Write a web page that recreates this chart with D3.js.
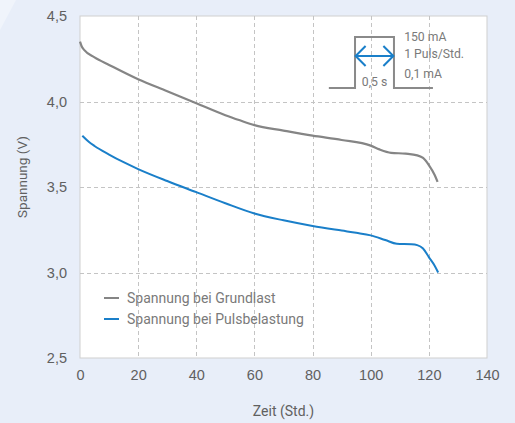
<!DOCTYPE html>
<html><head><meta charset="utf-8">
<script src="https://cdn.jsdelivr.net/npm/d3@7"></script>
<style>
body{margin:0;background:#e8eef9;}
svg{display:block;font-family:Roboto, "DejaVu Sans", sans-serif;}
</style></head>
<body>
<svg id="c" width="515" height="423"></svg>
<script>
// Data
const xTicks = [0,20,40,60,80,100,120,140];
const yTicks = [2.5,3.0,3.5,4.0,4.5];
const grundlastT = [0,0.6,1.5,5,10,20,30,40,50,55,60,70,80,90,100,103,107,112,116,118,120,122,123];
const grundlastV = [4.35,4.322,4.3,4.258,4.214,4.13,4.06,3.99,3.92,3.89,3.862,3.83,3.80,3.775,3.742,3.72,3.70,3.695,3.685,3.67,3.628,3.57,3.53];
const pulsT = [0.8,3,5,10,15,20,30,40,50,60,70,80,90,95,100,105,109,114,116,118,120,122,123.2];
const pulsV = [3.80,3.765,3.74,3.69,3.645,3.605,3.535,3.47,3.405,3.345,3.305,3.272,3.245,3.232,3.217,3.19,3.168,3.165,3.16,3.14,3.09,3.04,3.0];
const seriesNames = ["Spannung bei Grundlast","Spannung bei Pulsbelastung"];
const seriesColors = ["#858585","#1a7fc9"];
// Pulse inset (data units)
const pulseT = [85.6,94.6,94.6,108,108,121.4];
const pulseV = [4.079,4.079,4.377,4.377,4.079,4.079];
const arrowT = [94.8,107.8]; const arrowV = 4.266;
const insetLabels = [
  {t:111.5,v:4.352,text:"150 mA"},
  {t:111.5,v:4.253,text:"1 Puls/Std."},
  {t:111.5,v:4.135,text:"0,1 mA"}
];
const durLabel = {t:101.3,v:4.092,text:"0,5 s"};

const svg = d3.select("#c");
svg.append("path").attr("d","M0,0 L16,0 L0,30 Z").attr("fill","#f0f4fb");

const x = d3.scaleLinear().domain([0,140]).range([80,487]);
const y = d3.scaleLinear().domain([2.5,4.5]).range([358,16]);

svg.append("rect").attr("x",x(0)).attr("y",y(4.5)).attr("width",x(140)-x(0)).attr("height",y(2.5)-y(4.5))
  .attr("fill","#fff").attr("stroke","#cfcfcf").attr("stroke-width",1);

const grid = svg.append("g").attr("stroke","#c4c4c4").attr("stroke-dasharray","4,3").attr("stroke-width",1);
xTicks.filter(d=>d>0&&d<140).forEach(d=>grid.append("line").attr("x1",Math.round(x(d))+0.5).attr("x2",Math.round(x(d))+0.5).attr("y1",y(4.5)).attr("y2",y(2.5)));
yTicks.filter(d=>d>2.5&&d<4.5).forEach(d=>grid.append("line").attr("y1",Math.round(y(d))+0.5).attr("y2",Math.round(y(d))+0.5).attr("x1",x(0)).attr("x2",x(140)));

const fmt = d=>d3.format(".1f")(d).replace(".",",");
const xAxis = d3.axisBottom(x).tickValues(xTicks).tickSize(0).tickPadding(12).tickFormat(d=>d);
const gx = svg.append("g").attr("transform",`translate(0,${y(2.5)})`).call(xAxis);
gx.select(".domain").remove();
gx.selectAll("text").attr("fill","#606060").attr("font-size",14.5);
const yAxis = d3.axisLeft(y).tickValues(yTicks).tickSize(0).tickPadding(13).tickFormat(fmt);
const gy = svg.append("g").attr("transform",`translate(${x(0)},0)`).call(yAxis);
gy.select(".domain").remove();
gy.selectAll("text").attr("fill","#606060").attr("font-size",14.5);

svg.append("text").attr("x",(x(0)+x(140))/2).attr("y",416).attr("text-anchor","middle").attr("fill","#606060").attr("font-size",14).text("Zeit (Std.)");
svg.append("text").attr("transform",`translate(27,${177}) rotate(-90)`).attr("text-anchor","middle").attr("fill","#606060").attr("font-size",13.5).text("Spannung (V)");

const line = d3.line().x(d=>x(d[0])).y(d=>y(d[1])).curve(d3.curveMonotoneX);
svg.append("path").datum(d3.zip(grundlastT,grundlastV)).attr("d",line).attr("fill","none").attr("stroke",seriesColors[0]).attr("stroke-width",2.2);
svg.append("path").datum(d3.zip(pulsT,pulsV)).attr("d",line).attr("fill","none").attr("stroke",seriesColors[1]).attr("stroke-width",2);

seriesNames.forEach((n,i)=>{
  const yy = 298 + i*21;
  svg.append("line").attr("x1",104).attr("x2",119).attr("y1",yy).attr("y2",yy).attr("stroke",seriesColors[i]).attr("stroke-width",2);
  svg.append("text").attr("x",127).attr("y",yy+5).attr("fill","#7a7a7a").attr("font-size",14).text(n);
});

const pl = d3.line().x(d=>x(d[0])).y(d=>y(d[1]));
svg.append("path").datum(d3.zip(pulseT,pulseV)).attr("d",pl).attr("fill","none").attr("stroke","#8a8a8a").attr("stroke-width",2);
const ax0=x(arrowT[0]), ax1=x(arrowT[1]), ay=y(arrowV);
const ag = svg.append("g").attr("stroke","#1a7fc9").attr("stroke-width",2).attr("fill","none");
ag.append("line").attr("x1",ax0).attr("x2",ax1).attr("y1",ay).attr("y2",ay);
ag.append("path").attr("d",`M${ax0+10},${ay-10} L${ax0},${ay} L${ax0+10},${ay+10}`);
ag.append("path").attr("d",`M${ax1-10},${ay-10} L${ax1},${ay} L${ax1-10},${ay+10}`);
insetLabels.forEach(l=>svg.append("text").attr("x",x(l.t)).attr("y",y(l.v)).attr("fill","#7a7a7a").attr("font-size",12.2).text(l.text));
svg.append("text").attr("x",x(durLabel.t)).attr("y",y(durLabel.v)).attr("text-anchor","middle").attr("fill","#7a7a7a").attr("font-size",12.2).text(durLabel.text);
</script>
</body></html>
